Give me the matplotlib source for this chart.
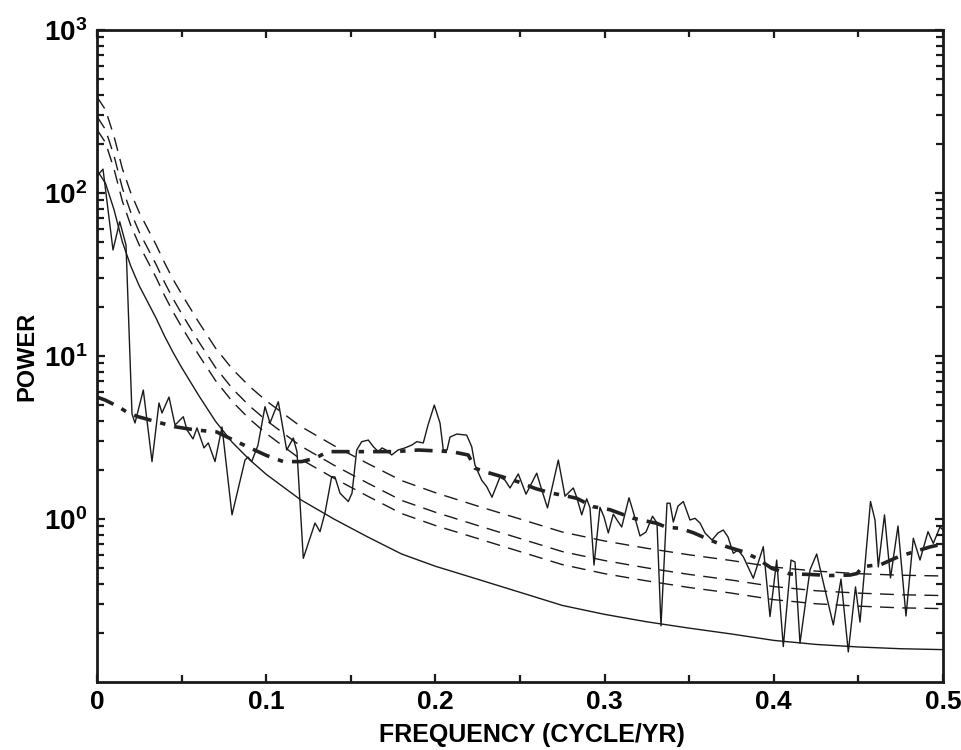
import matplotlib
matplotlib.use("Agg")
import matplotlib.pyplot as plt
from matplotlib.ticker import MultipleLocator, LogLocator, NullFormatter

plt.rcParams['font.family'] = ['Liberation Sans', 'DejaVu Sans']
plt.rcParams['mathtext.fontset'] = 'custom'
plt.rcParams['mathtext.rm'] = 'Liberation Sans:bold'
plt.rcParams['mathtext.bf'] = 'Liberation Sans:bold'

# ---- observed power spectrum (jagged line) ----
spec_freq = [0.0, 0.00355, 0.00946, 0.01342, 0.01714, 0.02069, 0.02246, 0.02736, 0.03251, 0.03664,
             0.03842, 0.04255, 0.04610, 0.05100, 0.05319, 0.05674, 0.05910, 0.06324, 0.06578, 0.06974,
             0.07388, 0.07979, 0.08747, 0.08924, 0.09143, 0.09515, 0.09929, 0.10225, 0.10715, 0.11212,
             0.11602, 0.11820, 0.12193, 0.12884, 0.13180, 0.13475, 0.13871, 0.14066, 0.14362, 0.14852,
             0.15071, 0.15349, 0.15644, 0.16034, 0.16330, 0.16625, 0.16844, 0.17080, 0.17417, 0.17790,
             0.18203, 0.18599, 0.18895, 0.19285, 0.19563, 0.19935, 0.20272, 0.20467, 0.20686, 0.20863,
             0.21259, 0.21850, 0.22145, 0.22340, 0.22736, 0.23032, 0.23345, 0.23818, 0.24113, 0.24409,
             0.24899, 0.25355, 0.25987, 0.26283, 0.26625, 0.27264, 0.27660, 0.27896, 0.28150, 0.28351,
             0.28647, 0.28942, 0.29137, 0.29374, 0.29728, 0.29965, 0.30219, 0.30514, 0.30733, 0.31011,
             0.31442, 0.31678, 0.32092, 0.32447, 0.32831, 0.33097, 0.33333, 0.33688, 0.33865, 0.34061,
             0.34338, 0.34651, 0.35047, 0.35343, 0.35638, 0.35934, 0.36348, 0.36702, 0.37015, 0.37293,
             0.37606, 0.37884, 0.38197, 0.38788, 0.39379, 0.39775, 0.40171, 0.40561, 0.41017, 0.41253,
             0.41548, 0.42139, 0.42535, 0.42849, 0.43517, 0.43972, 0.44403, 0.44829, 0.45095, 0.45715,
             0.45981, 0.46176, 0.46543, 0.46897, 0.47340, 0.47813, 0.48245, 0.48641, 0.49113, 0.49427,
             0.49823, 0.5]
spec_power = [127, 140, 44.7, 66.7, 48.0, 4.41, 3.88, 6.18, 2.25, 5.15,
              4.47, 5.60, 3.77, 4.24, 3.52, 3.10, 3.62, 2.73, 2.93, 2.25,
              3.67, 1.06, 2.30, 2.40, 2.25, 2.84, 4.89, 3.88, 5.24, 2.65,
              3.14, 2.58, 0.574, 0.945, 0.836, 1.09, 1.82, 1.81, 1.44, 1.28,
              1.44, 2.65, 2.98, 3.05, 2.78, 2.59, 2.73, 2.65, 2.47, 2.65,
              2.73, 2.84, 2.98, 2.93, 3.77, 5.00, 3.88, 2.65, 2.65, 3.18,
              3.32, 3.27, 2.78, 2.14, 1.73, 1.58, 1.36, 1.81, 1.73, 1.55,
              1.89, 1.42, 1.91, 1.51, 1.17, 2.30, 1.38, 1.46, 1.55, 1.36,
              1.06, 1.33, 1.17, 0.522, 1.18, 1.03, 0.821, 1.07, 0.986, 0.893,
              1.35, 1.12, 0.787, 0.832, 1.04, 0.945, 0.221, 1.25, 1.25, 0.958,
              1.20, 1.28, 0.986, 1.01, 0.945, 0.821, 0.743, 0.821, 0.856, 0.776,
              0.616, 0.645, 0.587, 0.433, 0.676, 0.252, 0.560, 0.165, 0.560, 0.545,
              0.173, 0.487, 0.610, 0.441, 0.224, 0.428, 0.153, 0.383, 0.233, 1.28,
              0.986, 0.508, 1.06, 0.435, 0.906, 0.254, 0.762, 0.560, 0.836, 0.709,
              0.893, 0.856]

# ---- smoothed background (thick dash-dot) ----
bg_freq = [0.0, 0.00473, 0.01259, 0.0185, 0.0244, 0.03824, 0.0461, 0.0579, 0.0707, 0.0806,
           0.0904, 0.1003, 0.1101, 0.121, 0.1288, 0.1367, 0.1485, 0.1761, 0.1899, 0.2096,
           0.2194, 0.2234, 0.2293, 0.2392, 0.2490, 0.2589, 0.2687, 0.2766, 0.2835, 0.2933,
           0.3032, 0.3170, 0.3308, 0.3367, 0.3446, 0.3524, 0.3623, 0.3722, 0.3820, 0.3901,
           0.3989, 0.4096, 0.4214, 0.4332, 0.4450, 0.4492, 0.4524, 0.4634, 0.4740, 0.4835,
           0.4923, 0.5]
bg_power = [5.60, 5.37, 4.89, 4.47, 4.24, 3.87, 3.68, 3.52, 3.42, 3.05,
            2.73, 2.45, 2.25, 2.25, 2.36, 2.59, 2.59, 2.59, 2.65, 2.59,
            2.47, 2.05, 1.95, 1.82, 1.69, 1.54, 1.44, 1.39, 1.34, 1.19,
            1.14, 1.01, 0.941, 0.889, 0.877, 0.824, 0.743, 0.676, 0.630, 0.573,
            0.497, 0.460, 0.457, 0.450, 0.453, 0.463, 0.510, 0.526, 0.589, 0.632,
            0.674, 0.703]

# ---- red-noise spectrum (thin solid) and confidence levels (thin dashed) ----
rn_freq = [0.0, 0.005, 0.01, 0.015, 0.02, 0.025, 0.03, 0.035, 0.04, 0.045,
           0.05, 0.06, 0.07, 0.08, 0.09, 0.10, 0.12, 0.14, 0.16, 0.18,
           0.20, 0.225, 0.25, 0.275, 0.30, 0.325, 0.35, 0.375, 0.40, 0.425,
           0.45, 0.475, 0.50]
rn_power = [138, 114.8, 79.4, 50.1, 35.5, 26.9, 21.4, 17.0, 13.2, 10.5,
            8.51, 5.75, 3.98, 2.95, 2.32, 1.88, 1.32, 1.00, 0.776, 0.610,
            0.513, 0.427, 0.355, 0.295, 0.260, 0.234, 0.214, 0.197, 0.180, 0.170,
            0.164, 0.160, 0.158]
conf_high = [389, 324, 224, 141, 100, 75.9, 60.3, 47.9, 37.2, 29.5,
             24.0, 16.2, 11.2, 8.32, 6.53, 5.31, 3.72, 2.82, 2.19, 1.72,
             1.45, 1.20, 1.00, 0.832, 0.733, 0.661, 0.603, 0.556, 0.507, 0.479,
             0.462, 0.452, 0.447]
conf_mid = [295, 245, 170, 107, 75.9, 57.5, 45.7, 36.3, 28.2, 22.4,
            18.2, 12.3, 8.51, 6.31, 4.95, 4.03, 2.82, 2.14, 1.66, 1.30,
            1.10, 0.912, 0.759, 0.631, 0.556, 0.501, 0.457, 0.422, 0.385, 0.363,
            0.351, 0.343, 0.339]
conf_low = [245, 204, 141, 89.1, 63.1, 47.9, 38.0, 30.2, 23.4, 18.6,
            15.1, 10.2, 7.08, 5.25, 4.12, 3.35, 2.34, 1.78, 1.38, 1.08,
            0.912, 0.759, 0.631, 0.525, 0.462, 0.417, 0.380, 0.351, 0.320, 0.302,
            0.292, 0.285, 0.282]

xticks = [0, 0.1, 0.2, 0.3, 0.4, 0.5]
xticklabels = ['0', '0.1', '0.2', '0.3', '0.4', '0.5']
yticks = [1, 10, 100, 1000]
yticklabels = [r'$\mathbf{10^{0}}$', r'$\mathbf{10^{1}}$', r'$\mathbf{10^{2}}$', r'$\mathbf{10^{3}}$']

fig = plt.figure(figsize=(9.61, 7.5), dpi=100)
ax = fig.add_axes([97/961, 1 - 682/750, 846/961, 652/750])
ax.set_yscale('log')
ax.set_xlim(0, 0.5)
ax.set_ylim(0.1, 1000)

ink = '#1a1a1a'
ax.plot(rn_freq, rn_power, color=ink, lw=1.0)
for c in (conf_high, conf_mid, conf_low):
    ax.plot(rn_freq, c, color=ink, lw=1.0, dashes=(10, 6))
ax.plot(spec_freq, spec_power, color=ink, lw=1.0)
ax.plot(bg_freq, bg_power, color='#222222', lw=2.6, dashes=(5, 2.5, 1.5, 2.5))

ax.set_xticks(xticks)
ax.set_xticklabels(xticklabels, fontsize=19, fontweight='bold')
ax.xaxis.set_minor_locator(MultipleLocator(0.05))
ax.set_yticks(yticks)
ax.set_yticklabels(yticklabels, fontsize=20)
ax.yaxis.set_minor_locator(LogLocator(base=10, subs=range(2, 10)))
ax.yaxis.set_minor_formatter(NullFormatter())

ax.tick_params(which='both', direction='in', top=True, right=True, width=1.6, color=ink)
ax.tick_params(which='major', length=6)
ax.tick_params(which='minor', length=5)
ax.tick_params(axis='x', pad=6)
ax.tick_params(axis='y', pad=7)
for s in ax.spines.values():
    s.set_linewidth(2.0)
    s.set_color(ink)

ax.set_xlabel('FREQUENCY (CYCLE/YR)', fontsize=18, fontweight='bold', labelpad=6, x=0.514)
ax.set_ylabel('POWER', fontsize=17, fontweight='bold', labelpad=4)

fig.savefig('out.png', dpi=100, facecolor='white')
